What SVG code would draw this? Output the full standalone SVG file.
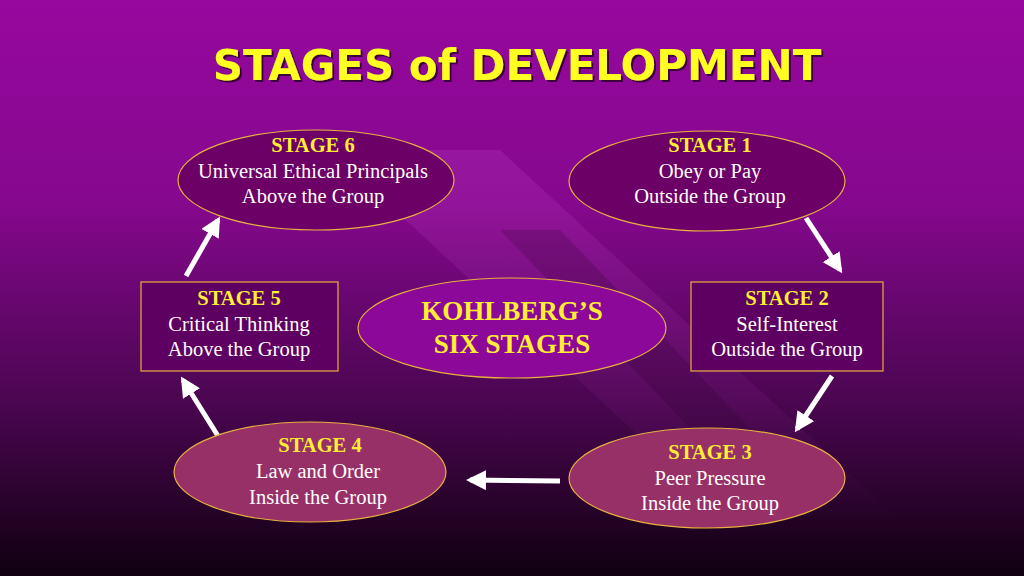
<svg xmlns="http://www.w3.org/2000/svg" width="1024" height="576" viewBox="0 0 1024 576">
<defs>
<linearGradient id="bg" x1="0" y1="0" x2="0" y2="1">
<stop offset="0" stop-color="#96089e"/>
<stop offset="0.35" stop-color="#86088e"/>
<stop offset="0.7" stop-color="#4a0650"/>
<stop offset="1" stop-color="#100010"/>
</linearGradient>
<linearGradient id="fade" x1="0" y1="0" x2="0" y2="1">
<stop offset="0" stop-color="#c040c8" stop-opacity="0.25"/>
<stop offset="1" stop-color="#c040c8" stop-opacity="0"/>
</linearGradient>
<marker id="ah" viewBox="0 0 10 10" refX="8" refY="5" markerWidth="4" markerHeight="4" orient="auto"><path d="M0,0 L10,5 L0,10 z" fill="#fff"/></marker>
<filter id="sh"><feDropShadow dx="2" dy="2" stdDeviation="0.5" flood-color="#000" flood-opacity="0.6"/></filter>
</defs>
<style>
.t{font-family:"Liberation Serif",serif;font-size:20.5px;fill:#fff;text-anchor:middle}
.h{font-family:"Liberation Serif",serif;font-size:20.5px;font-weight:bold;fill:#ffee33;text-anchor:middle}
.n{stroke:#e8b040;stroke-width:1.2}
.c{stroke:#fff;stroke-width:5;fill:none;marker-end:url(#ah)}
</style>
<rect width="1024" height="576" fill="url(#bg)"/>
<polygon points="330,150 500,150 900,520 730,520" fill="url(#fade)"/>
<polygon points="500,230 560,230 800,480 740,480" fill="#2a002a" opacity="0.2"/>
<text x="517" y="80" font-family="'DejaVu Sans',sans-serif" font-weight="bold" font-size="42" fill="#ffff22" text-anchor="middle" filter="url(#sh)">STAGES of DEVELOPMENT</text>
<g id="connectors">
<line class="c" x1="186" y1="276" x2="218" y2="220"/>
<line class="c" x1="806" y1="218" x2="840" y2="270"/>
<line class="c" x1="832" y1="376" x2="797" y2="429"/>
<line class="c" x1="560" y1="481" x2="470" y2="480"/>
<line class="c" x1="218" y1="436" x2="183" y2="380"/>
</g>
<g id="stage6"><ellipse class="n" cx="316" cy="180" rx="138" ry="50" fill="#6c0066"/>
<text class="h" x="313" y="152">STAGE 6</text><text class="t" x="313" y="178">Universal Ethical Principals</text><text class="t" x="313" y="203">Above the Group</text></g>
<g id="stage1"><ellipse class="n" cx="707" cy="181" rx="138" ry="50" fill="#6c0066"/>
<text class="h" x="710" y="152">STAGE 1</text><text class="t" x="710" y="178">Obey or Pay</text><text class="t" x="710" y="203">Outside the Group</text></g>
<g id="stage5"><rect class="n" x="141" y="282" width="197" height="89" fill="#5e0062"/>
<text class="h" x="239" y="305">STAGE 5</text><text class="t" x="239" y="331">Critical Thinking</text><text class="t" x="239" y="356">Above the Group</text></g>
<g id="stage2"><rect class="n" x="691" y="282" width="192" height="89" fill="#5e0062"/>
<text class="h" x="787" y="305">STAGE 2</text><text class="t" x="787" y="331">Self-Interest</text><text class="t" x="787" y="356">Outside the Group</text></g>
<g id="center"><ellipse class="n" cx="512" cy="328" rx="154" ry="50" fill="#8c0898"/>
<text class="h" style="font-size:27px" x="512" y="320">KOHLBERG’S</text><text class="h" style="font-size:27px" x="512" y="353">SIX STAGES</text></g>
<g id="stage4"><ellipse class="n" cx="310" cy="472" rx="136" ry="50" fill="#983068"/>
<text class="h" x="320" y="452">STAGE 4</text><text class="t" x="318" y="478">Law and Order</text><text class="t" x="318" y="504">Inside the Group</text></g>
<g id="stage3"><ellipse class="n" cx="707" cy="478" rx="138" ry="50" fill="#983068"/>
<text class="h" x="710" y="459">STAGE 3</text><text class="t" x="710" y="485">Peer Pressure</text><text class="t" x="710" y="510">Inside the Group</text></g>
</svg>
